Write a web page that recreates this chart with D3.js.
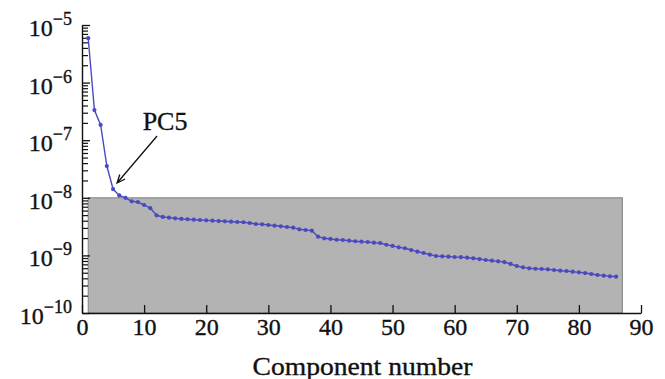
<!DOCTYPE html>
<html lang="en">
<head>
    <meta charset="UTF-8">
    <title>Component spectrum</title>
    <script src="https://cdnjs.cloudflare.com/ajax/libs/d3/7.8.5/d3.min.js"></script>
    <style>
        body { margin: 0; background: #fff; }
        text { font-family: "Liberation Serif", "Times New Roman", serif; fill: #111; stroke: #111; stroke-width: 0.35px; }
    </style>
</head>
<body>
<svg width="665" height="379"></svg>
<script>

    // component index 1..86 and the value read for each one
    let components = d3.range(1, 87);
    let values = [
        5.9e-6, 3.34e-7, 1.84e-7, 3.56e-8, 1.42e-8, 1.10e-8, 1.00e-8, 8.69e-9, 8.45e-9, 7.50e-9,
        6.61e-9, 4.97e-9, 4.65e-9, 4.52e-9, 4.41e-9, 4.29e-9, 4.24e-9, 4.17e-9, 4.12e-9, 4.06e-9,
        4.01e-9, 3.95e-9, 3.91e-9, 3.85e-9, 3.80e-9, 3.76e-9, 3.65e-9, 3.51e-9, 3.47e-9, 3.37e-9,
        3.28e-9, 3.20e-9, 3.11e-9, 3.03e-9, 2.84e-9, 2.76e-9, 2.69e-9, 2.11e-9, 1.98e-9, 1.93e-9,
        1.87e-9, 1.85e-9, 1.80e-9, 1.76e-9, 1.73e-9, 1.71e-9, 1.66e-9, 1.64e-9, 1.53e-9, 1.46e-9,
        1.38e-9, 1.33e-9, 1.24e-9, 1.16e-9, 1.10e-9, 1.03e-9, 9.77e-10, 9.64e-10, 9.51e-10, 9.38e-10,
        9.33e-10, 9.12e-10, 8.91e-10, 8.65e-10, 8.32e-10, 8.09e-10, 7.89e-10, 7.67e-10, 7.10e-10, 6.55e-10,
        6.21e-10, 5.97e-10, 5.87e-10, 5.81e-10, 5.73e-10, 5.58e-10, 5.42e-10, 5.36e-10, 5.21e-10, 5.08e-10,
        4.94e-10, 4.75e-10, 4.57e-10, 4.45e-10, 4.34e-10, 4.27e-10
    ];

    let xTicks = [0, 10, 20, 30, 40, 50, 60, 70, 80, 90];
    let yExponents = [-5, -6, -7, -8, -9, -10];

    // grey band: components 1..87, below 1e-8
    let bandX = [1, 87];
    let bandY = [1e-10, 1e-8];

    let annotation = { component: 5, label: "PC5" };

    let svg = d3.select("svg");

    let x = d3.scaleLinear().domain([0, 90]).range([82, 641]);
    let y = d3.scaleLog().domain([1e-10, 1e-5]).range([313, 25]);

    // shaded region
    svg.append("rect")
        .attr("x", x(bandX[0]))
        .attr("y", y(bandY[1]))
        .attr("width", x(bandX[1]) - x(bandX[0]))
        .attr("height", y(bandY[0]) - y(bandY[1]))
        .attr("fill", "#b3b3b3")
        .attr("stroke", "#808080")
        .attr("stroke-width", 1);

    // x axis, ticks pointing up
    let xAxis = svg.append("g")
        .attr("transform", "translate(0," + y(1e-10) + ")")
        .call(d3.axisBottom(x).tickValues(xTicks).tickSizeInner(-8).tickSizeOuter(0).tickPadding(5));
    xAxis.select(".domain").attr("stroke", "#111").attr("stroke-width", 1.4);
    xAxis.selectAll(".tick line").attr("stroke", "#111").attr("stroke-width", 1.3);
    xAxis.selectAll(".tick text")
        .attr("font-size", 24)
        .attr("fill", "#111");

    // y axis: majors and minors pointing right
    let majors = yExponents.map(function(e) { return Math.pow(10, e); });
    let minors = [];
    yExponents.forEach(function(e) {
        if (e === -5) return;
        d3.range(2, 10).forEach(function(m) { minors.push(m * Math.pow(10, e)); });
    });

    let yMinor = svg.append("g")
        .attr("transform", "translate(" + x(0) + ",0)")
        .call(d3.axisRight(y).tickValues(minors).tickSize(6).tickSizeOuter(0).tickFormat(""));
    yMinor.select(".domain").remove();
    yMinor.selectAll(".tick line").attr("stroke", "#111").attr("stroke-width", 1.2);

    let yMajor = svg.append("g")
        .attr("transform", "translate(" + x(0) + ",0)")
        .call(d3.axisRight(y).tickValues(majors).tickSize(8).tickSizeOuter(0).tickFormat(""));
    yMajor.select(".domain").attr("stroke", "#111").attr("stroke-width", 1.4);
    yMajor.selectAll(".tick line").attr("stroke", "#111").attr("stroke-width", 1.3);

    // y labels with superscripts
    let yLabels = svg.append("g");
    yExponents.forEach(function(e) {
        let t = yLabels.append("text")
            .attr("x", 72)
            .attr("y", y(Math.pow(10, e)) + 11)
            .attr("text-anchor", "end")
            .attr("font-size", 24);
        t.append("tspan").text("10");
        t.append("tspan")
            .attr("font-size", 18)
            .attr("dy", -11)
            .text("\u2212" + Math.abs(e));
    });

    // x title
    svg.append("text")
        .attr("x", (x(0) + x(90)) / 2 + 1)
        .attr("y", 375)
        .attr("text-anchor", "middle")
        .attr("font-size", 25)
        .attr("textLength", 220)
        .attr("lengthAdjust", "spacingAndGlyphs")
        .text("Component number");

    // series
    let points = components.map(function(c, i) { return { c: c, v: values[i] }; });

    let line = d3.line()
        .x(function(d) { return x(d.c); })
        .y(function(d) { return y(d.v); });

    svg.append("path")
        .datum(points)
        .attr("d", line)
        .attr("fill", "none")
        .attr("stroke", "#4a4ac0")
        .attr("stroke-width", 1.4);

    svg.append("g")
        .selectAll("circle")
        .data(points)
        .enter().append("circle")
        .attr("cx", function(d) { return x(d.c); })
        .attr("cy", function(d) { return y(d.v); })
        .attr("r", 2.1)
        .attr("fill", "#4a4ac0");

    // PC5 arrow
    let target = points[annotation.component - 1];
    let tipX = x(target.c) + 4, tipY = y(target.v) - 6;
    let startX = tipX + 40, startY = tipY - 47;
    let ang = Math.atan2(tipY - startY, tipX - startX);
    let headLen = 9, spread = 0.4;

    svg.append("path")
        .attr("d",
            "M" + startX + "," + startY + "L" + tipX + "," + tipY +
            "M" + (tipX - headLen * Math.cos(ang - spread)) + "," + (tipY - headLen * Math.sin(ang - spread)) +
            "L" + tipX + "," + tipY +
            "L" + (tipX - headLen * Math.cos(ang + spread)) + "," + (tipY - headLen * Math.sin(ang + spread)))
        .attr("fill", "none")
        .attr("stroke", "#111")
        .attr("stroke-width", 1.3);

    svg.append("text")
        .attr("x", startX + 8)
        .attr("y", startY - 6)
        .attr("text-anchor", "middle")
        .attr("font-size", 26)
        .text(annotation.label);

</script>
</body>
</html>
